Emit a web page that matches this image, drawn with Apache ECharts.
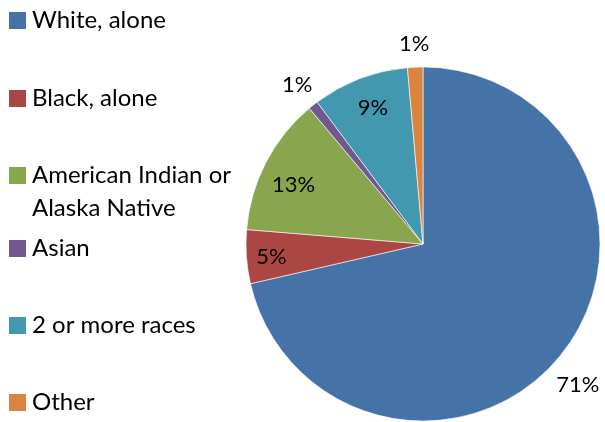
<!DOCTYPE html>
<html>
<head>
<meta charset="utf-8">
<script src="https://cdn.jsdelivr.net/npm/echarts@6/dist/echarts.min.js"></script>
<style>
html,body{margin:0;padding:0;background:#fff;}
#chart{width:605px;height:422px;}
</style>
</head>
<body>
<div id="chart"></div>
<script>
var categories = ['White, alone', 'Black, alone', 'American Indian or Alaska Native', 'Asian', '2 or more races', 'Other'];
var values = [71.4, 4.9, 12.6, 0.9, 8.8, 1.4];
var colors = ['#4572A7', '#AA4643', '#89A54E', '#71588F', '#4198AF', '#DB843D'];
var insideLabels = [false, true, true, false, true, false];

var FONT = 'Lato';
var FS = 24;
var LFS = 22;
var LABEL_NUDGE = { 0: [-4, 14], 1: [-3, 2], 2: [3, 9], 4: [3, 3], 5: [0, 3] };

var chart = echarts.init(document.getElementById('chart'), null, {renderer: 'canvas'});

function pctFmt(p) { return Math.round(p.percent) + '%'; }

var mainData = categories.map(function (c, i) {
  return { name: c, value: values[i], itemStyle: { color: colors[i] } };
});
function overlayData(inside) {
  return categories.map(function (c, i) {
    var lab = { show: insideLabels[i] === inside };
    if (LABEL_NUDGE[i]) lab.offset = LABEL_NUDGE[i];
    return { name: c, value: values[i], label: lab };
  });
}
var overlayBase = {
  type: 'pie', silent: true, clockwise: true, startAngle: 90,
  center: [423, 244],
  itemStyle: { color: 'rgba(0,0,0,0)', borderWidth: 0 },
  labelLine: { show: false },
  emphasis: { disabled: true },
  legendHoverLink: false,
  avoidLabelOverlap: false,
  label: { position: 'inside', formatter: pctFmt, color: '#000', fontFamily: FONT, fontSize: LFS }
};

var legendCommon = {
  orient: 'vertical',
  left: 7, padding: 0,
  itemWidth: 19, itemHeight: 19,
  icon: 'rect',
  selectedMode: false,
  height: 600,
  textStyle: { fontFamily: FONT, fontSize: FS, color: '#000', lineHeight: 33 }
};
function mkLegend(names, top, gap, extra) {
  return Object.assign({}, legendCommon, { top: top, itemGap: gap, data: names }, extra || {});
}

chart.setOption({
  animation: false,
  legend: [
    mkLegend([categories[0], categories[1]], 4, 45),
    mkLegend([categories[2]], 163, 44, {
      formatter: '{a|American Indian or}\n{b|Alaska Native}',
      textStyle: {
        fontFamily: FONT, fontSize: FS, color: '#000',
        rich: {
          a: { fontFamily: FONT, fontSize: FS, color: '#000', lineHeight: 66 },
          b: { fontFamily: FONT, fontSize: FS, color: '#000', lineHeight: 1 }
        }
      }
    }),
    mkLegend([categories[3], categories[4], categories[5]], 232, 44)
  ],
  series: [
    {
      name: 'main', type: 'pie', clockwise: true, startAngle: 90,
      center: [423, 244], radius: [0, 177],
      itemStyle: { borderColor: '#fff', borderWidth: 0.6 },
      label: { show: false }, labelLine: { show: false },
      emphasis: { disabled: true },
      data: mainData
    },
    Object.assign({}, overlayBase, { name: 'inLabels', radius: [0, 292], data: overlayData(true) }),
    Object.assign({}, overlayBase, { name: 'outLabels', radius: [0, 400], data: overlayData(false) })
  ]
});
</script>
</body>
</html>
